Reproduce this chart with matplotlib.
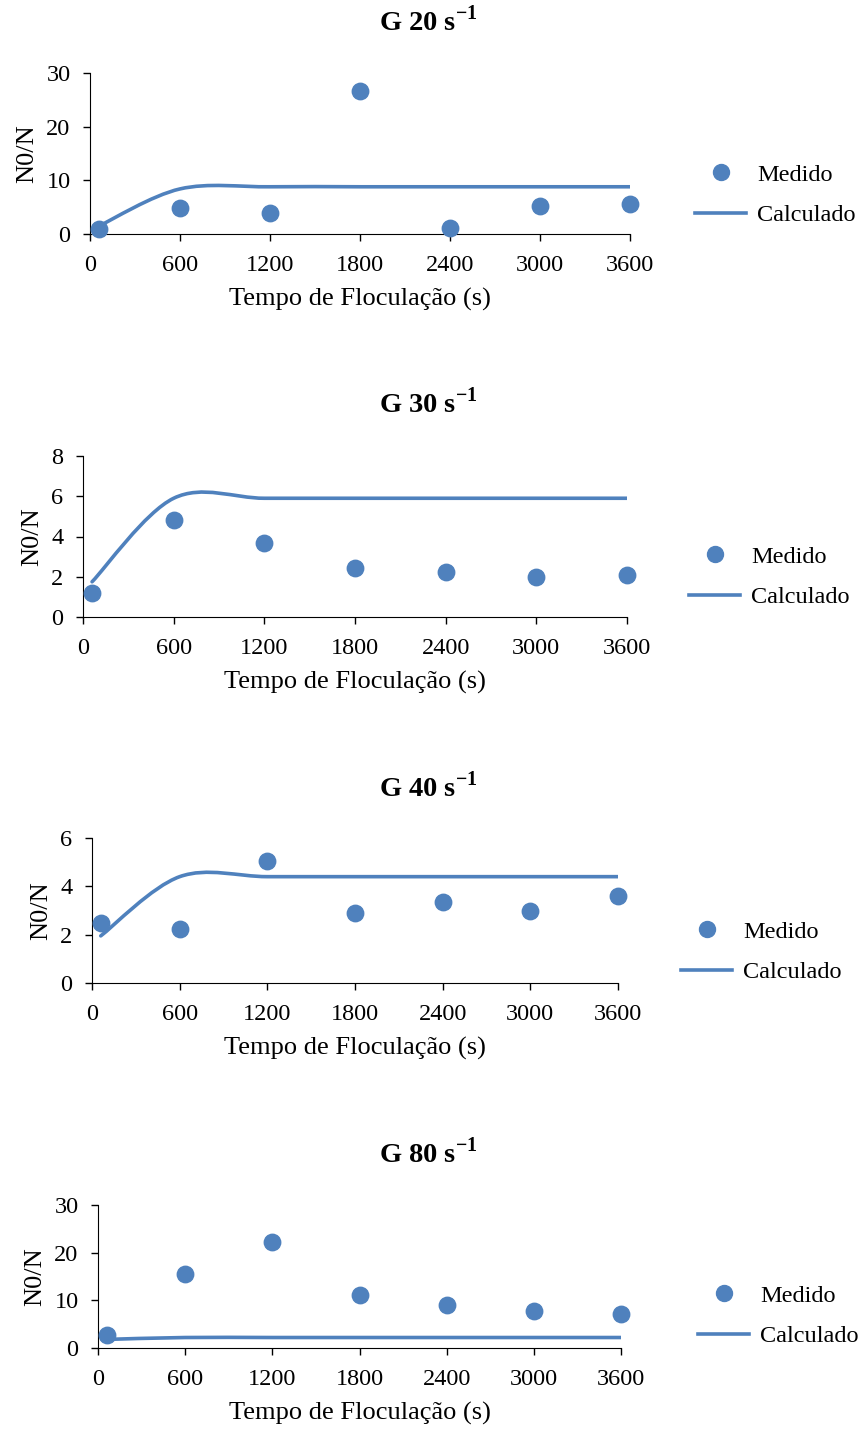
import matplotlib
matplotlib.use("Agg")
import matplotlib.pyplot as plt
from matplotlib.path import Path
from matplotlib.patches import PathPatch
from matplotlib.lines import Line2D

plt.rcParams['font.family'] = 'Liberation Serif'
plt.rcParams['mathtext.fontset'] = 'custom'
plt.rcParams['mathtext.rm'] = 'Liberation Serif'
plt.rcParams['mathtext.bf'] = 'Liberation Serif:bold'

tempo = [60, 600, 1200, 1800, 2400, 3000, 3600]
xticks = [0, 600, 1200, 1800, 2400, 3000, 3600]

titulos = ['20', '30', '40', '80']

medido_g20 = [1.0, 4.8, 3.9, 26.6, 1.2, 5.2, 5.5]
calc_g20 = [1.5, 8.4, 8.8, 8.8, 8.8, 8.8, 8.8]

medido_g30 = [1.2, 4.8, 3.7, 2.45, 2.25, 2.0, 2.1]
calc_g30 = [1.75, 5.9, 5.9, 5.9, 5.9, 5.9, 5.9]

medido_g40 = [2.5, 2.25, 5.05, 2.9, 3.35, 3.0, 3.6]
calc_g40 = [1.95, 4.4, 4.4, 4.4, 4.4, 4.4, 4.4]

medido_g80 = [2.7, 15.5, 22.3, 11.2, 9.0, 7.8, 7.1]
calc_g80 = [1.8, 2.2, 2.2, 2.2, 2.2, 2.2, 2.2]

medidos = [medido_g20, medido_g30, medido_g40, medido_g80]
calculados = [calc_g20, calc_g30, calc_g40, calc_g80]
ymax = [30, 8, 6, 30]
ystep = [10, 2, 2, 10]

cor = '#4F81BD'
W, H = 863, 1429

# pixel boxes: left, bottom, right, top
caixas = [(90, 234, 630, 73), (83, 617, 627, 456), (92, 983, 618, 838), (98, 1348, 621, 1205)]
titulo_y = [21, 403, 787, 1153]
legenda_y = [195, 577, 952, 1316]
legenda_x = [695, 689, 681, 698]


def curva_suave(x, y):
    # Excel-like smoothed line (Catmull-Rom as cubic bezier)
    pts = list(zip(x, y))
    n = len(pts)
    verts = [pts[0]]
    codes = [Path.MOVETO]
    for i in range(n - 1):
        p0 = pts[i - 1] if i > 0 else pts[i]
        p1 = pts[i]
        p2 = pts[i + 1]
        p3 = pts[i + 2] if i + 2 < n else pts[i + 1]
        c1 = (p1[0] + (p2[0] - p0[0]) / 6, p1[1] + (p2[1] - p0[1]) / 6)
        c2 = (p2[0] - (p3[0] - p1[0]) / 6, p2[1] - (p3[1] - p1[1]) / 6)
        verts += [c1, c2, p2]
        codes += [Path.CURVE4] * 3
    return Path(verts, codes)


fig = plt.figure(figsize=(W / 100, H / 100), dpi=100)

for k in range(4):
    l, b, r, t = caixas[k]
    ax = fig.add_axes([l / W, 1 - b / H, (r - l) / W, (b - t) / H])
    ax.scatter(tempo, medidos[k], s=140, color=cor, zorder=3, clip_on=False)
    ax.add_patch(PathPatch(curva_suave(tempo, calculados[k]), facecolor='none',
                           edgecolor=cor, lw=2.6, capstyle='round', zorder=2))
    ax.set_xlim(0, 3600)
    ax.set_ylim(0, ymax[k])
    ax.set_xticks(xticks)
    ax.set_yticks(range(0, ymax[k] + 1, ystep[k]))
    ax.spines['top'].set_visible(False)
    ax.spines['right'].set_visible(False)
    ax.tick_params(direction='out', length=5, width=1, labelsize=17.5)
    ax.tick_params(axis='x', pad=10)
    ax.tick_params(axis='y', pad=9)
    ax.set_xlabel('Tempo de Floculação (s)', fontsize=19, labelpad=9)
    ax.set_ylabel('N0/N', fontsize=19, labelpad=6)
    fig.text(428 / W, 1 - titulo_y[k] / H, r'G %s s$^{\mathbf{-1}}$' % titulos[k],
             ha='center', va='center', fontsize=20.5, fontweight='bold')
    handles = [Line2D([], [], ls='none', marker='o', ms=11.5, color=cor),
               Line2D([], [], lw=2.6, color=cor)]
    fig.legend(handles, ['Medido', 'Calculado'], loc='center left',
               bbox_to_anchor=(legenda_x[k] / W, 1 - legenda_y[k] / H),
               frameon=False, fontsize=17.5, handlelength=2.1, labelspacing=0.78,
               handletextpad=0.45, borderpad=0, borderaxespad=0)

fig.savefig('out.png', dpi=100)
